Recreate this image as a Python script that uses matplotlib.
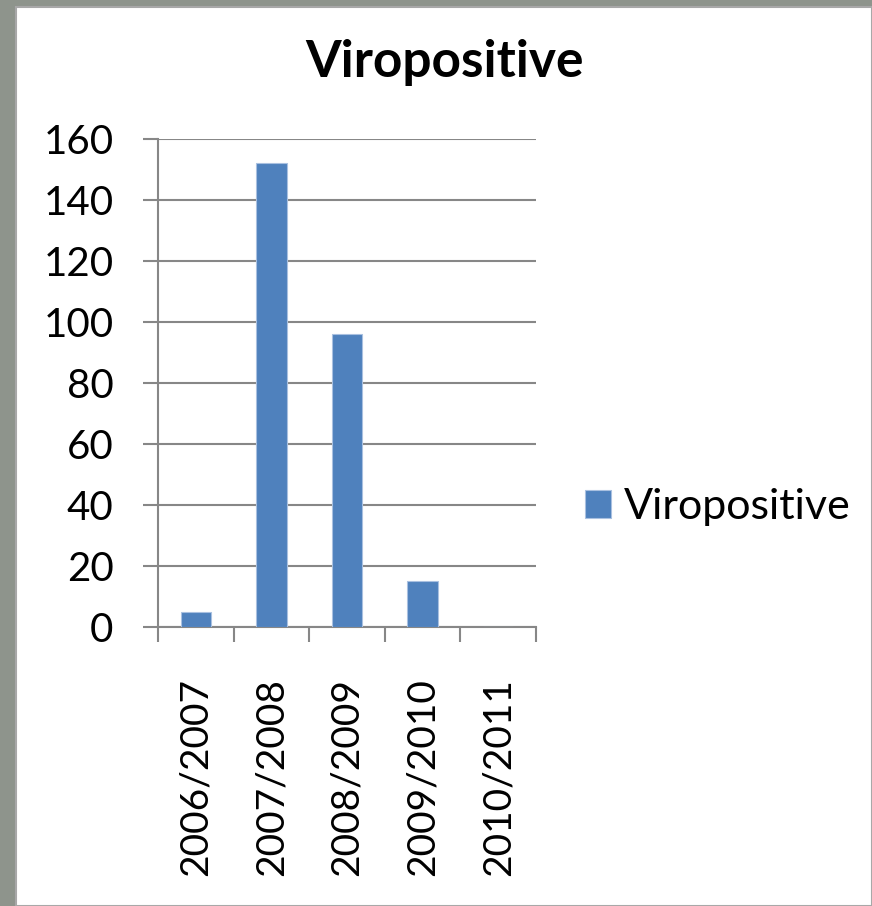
import matplotlib
matplotlib.use("Agg")
import matplotlib.pyplot as plt
from matplotlib.patches import Rectangle

categories = ["2006/2007", "2007/2008", "2008/2009", "2009/2010", "2010/2011"]
values = [5, 152, 96, 15, 0]
series_name = "Viropositive"
title = "Viropositive"
yticks = [0, 20, 40, 60, 80, 100, 120, 140, 160]

W, H = 872, 906
plt.rcParams['font.family'] = ['Lato', 'DejaVu Sans']
fig = plt.figure(figsize=(W / 100, H / 100), dpi=100)
fig.patch.set_facecolor('#8e948c')
bg = Rectangle((16 / W, 0), 1 - 16 / W, (H - 7) / H, transform=fig.transFigure,
               facecolor='white', edgecolor='#a8a8a8', linewidth=1.5, zorder=-10)
fig.add_artist(bg)

ax = fig.add_axes([158 / W, (H - 627) / H, 378 / W, 488 / H])
ax.set_zorder(1)
ax.set_facecolor('none')
x = list(range(len(categories)))
bars = ax.bar(x, values, width=0.4, color='#4F81BD', edgecolor='#a9c0e0', linewidth=0.8,
              label=series_name, zorder=3)
ax.set_xlim(-0.5, len(categories) - 0.5)
ax.set_ylim(0, 160)
ax.set_yticks(yticks)
ax.set_yticklabels([str(v) for v in yticks], fontsize=29)
ax.yaxis.grid(True, color='#878787', linewidth=1.5, zorder=0)
ax.set_axisbelow(True)
ax.set_xticks(x)
ax.set_xticklabels(categories, rotation=90, fontsize=28)
ax.set_xticks([i - 0.5 for i in range(len(categories) + 1)], minor=True)
ax.tick_params(axis='x', which='major', length=0, pad=37)
ax.tick_params(axis='x', which='minor', length=11, width=1.5, color='#878787')
ax.tick_params(axis='y', length=11, width=1.5, color='#878787', pad=21)
for s in ['top', 'right']:
    ax.spines[s].set_visible(False)
for s in ['left', 'bottom']:
    ax.spines[s].set_color('#878787')
    ax.spines[s].set_linewidth(1.5)

fig.text(445 / W, 1 - 62 / H, title, ha='center', va='center', fontsize=37, fontweight='bold')

leg = fig.legend(handles=[bars], labels=[series_name], loc='center left',
                 bbox_to_anchor=(546 / W, 1 - 507 / H), frameon=False, fontsize=31,
                 handlelength=0.62, handleheight=0.62, handletextpad=0.3)

fig.savefig("out.png", dpi=100)
